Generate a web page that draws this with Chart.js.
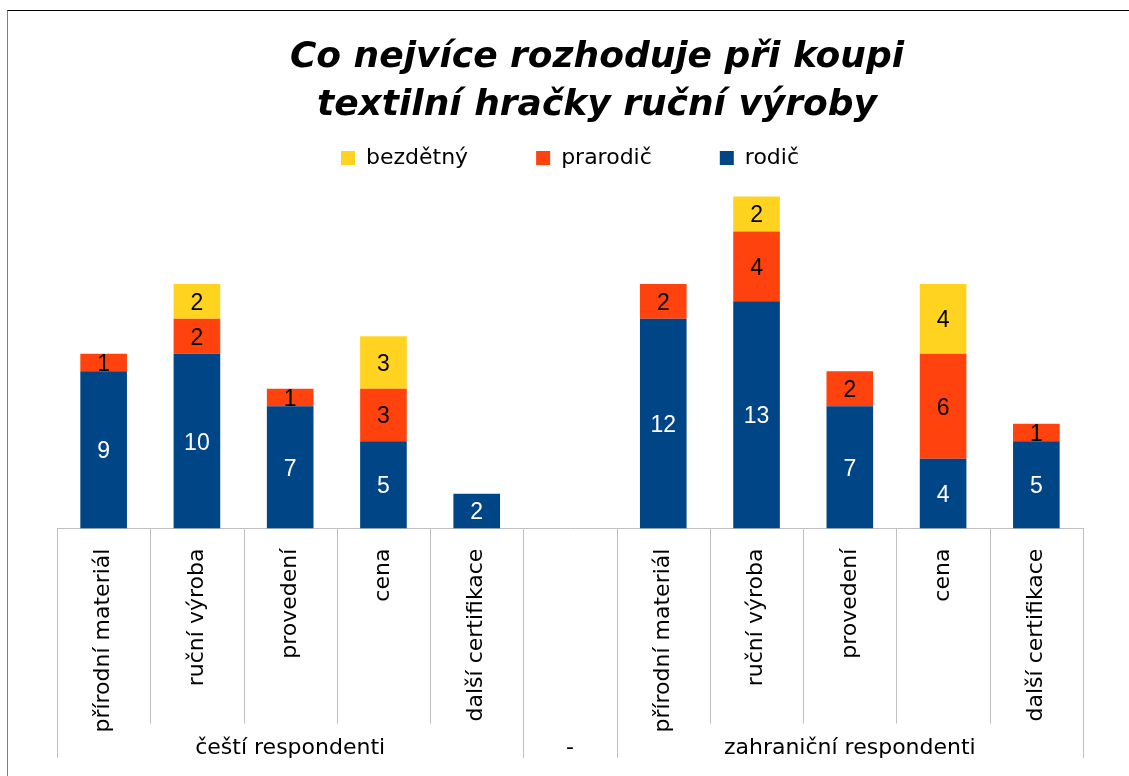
<!DOCTYPE html>
<html>
<head>
<meta charset="utf-8">
<script src="https://cdn.jsdelivr.net/npm/chart.js@4.4.0/dist/chart.umd.min.js"></script>
<style>
html,body{margin:0;padding:0;background:#fff;overflow:hidden;width:1129px;height:776px;}
#frame{position:absolute;left:7px;top:10px;width:1200px;height:900px;border-top:1px solid #000;border-left:1px solid #808080;}
#wrap{position:absolute;left:0;top:0;width:1137px;height:776px;}
canvas{display:block;}
</style>
</head>
<body>
<div id="frame"></div>
<div id="wrap"><canvas id="c" width="1137" height="776"></canvas></div>
<script>
// ---- data ----
const titleLines = ['Co nejvíce rozhoduje při koupi', 'textilní hračky ruční výroby'];
const categories = ['přírodní materiál', 'ruční výroba', 'provedení', 'cena', 'další certifikace', '',
                    'přírodní materiál', 'ruční výroba', 'provedení', 'cena', 'další certifikace'];
const groupLabels = ['', '', 'čeští respondenti', '', '', '-', '', '', 'zahraniční respondenti', '', ''];
const groupSizes = [5, 1, 5];
const seriesNames = ['rodič', 'prarodič', 'bezdětný'];
const rodic    = [9, 10, 7, 5, 2, null, 12, 13, 7, 4, 5];
const prarodic = [1, 2, 1, 3, 0, null, 2, 4, 2, 6, 1];
const bezdetny = [0, 2, 0, 3, 0, null, 0, 2, 0, 4, 0];
const yMax = 20;

const colors = ['#004586', '#ff420e', '#ffd320'];
const labelColors = ['#ffffff', '#000000', '#000000'];

// ---- plugins ----
const valueLabels = {
  id: 'valueLabels',
  afterDatasetsDraw(chart) {
    const ctx = chart.ctx;
    ctx.save();
    ctx.font = '23px "Liberation Sans", Arial, sans-serif';
    ctx.textAlign = 'center';
    ctx.textBaseline = 'middle';
    chart.data.datasets.forEach((ds, i) => {
      const meta = chart.getDatasetMeta(i);
      if (meta.hidden) return;
      meta.data.forEach((bar, j) => {
        const v = ds.data[j];
        if (!v) return;
        const p = bar.getProps(['x', 'y', 'base'], true);
        ctx.fillStyle = ds.labelColor;
        ctx.fillText(String(v), p.x, (p.y + p.base) / 2 + 2);
      });
    });
    ctx.restore();
  }
};

const separators = {
  id: 'separators',
  afterDraw(chart) {
    const xs = chart.scales.x, xg = chart.scales.xGroup;
    const ctx = chart.ctx;
    const n = categories.length;
    const step = xs.getPixelForValue(1) - xs.getPixelForValue(0);
    const start = xs.getPixelForValue(0) - step / 2;
    const bounds = [0];
    groupSizes.reduce((acc, s) => { bounds.push(acc + s); return acc + s; }, 0);
    ctx.save();
    ctx.strokeStyle = '#c0c0c0';
    ctx.lineWidth = 1;
    for (let k = 0; k <= n; k++) {
      const x = Math.round(start + k * step) + 0.5;
      const yEnd = bounds.includes(k) ? xg.bottom - 4 : xs.bottom - 10;
      ctx.beginPath();
      ctx.moveTo(x, xs.top);
      ctx.lineTo(x, yEnd);
      ctx.stroke();
    }
    ctx.restore();
  }
};

const tickFont = { family: '"DejaVu Sans"', size: 22 };

new Chart(document.getElementById('c'), {
  type: 'bar',
  data: {
    labels: categories,
    datasets: [
      { label: seriesNames[0], data: rodic,    backgroundColor: colors[0], borderWidth: 0, labelColor: labelColors[0] },
      { label: seriesNames[1], data: prarodic, backgroundColor: colors[1], borderWidth: 0, labelColor: labelColors[1] },
      { label: seriesNames[2], data: bezdetny, backgroundColor: colors[2], borderWidth: 0, labelColor: labelColors[2] }
    ]
  },
  options: {
    responsive: false,
    animation: false,
    devicePixelRatio: 1,
    categoryPercentage: 1.0,
    barPercentage: 0.5,
    layout: { padding: { left: 57, right: 0, top: 0, bottom: 14 } },
    plugins: {
      title: {
        display: true,
        text: titleLines,
        color: '#000',
        font: { family: '"DejaVu Sans"', size: 36, weight: 'bold', style: 'italic', lineHeight: 48 / 36 },
        padding: { top: 34, bottom: -51 }
      },
      legend: {
        display: true,
        position: 'top',
        fullSize: false,
        reverse: true,
        labels: {
          boxWidth: 14, boxHeight: 14, padding: 68, color: '#000',
          font: { family: '"DejaVu Sans"', size: 22 }
        }
      },
      tooltip: { enabled: false }
    },
    scales: {
      x: {
        type: 'category',
        stacked: true,
        offset: true,
        weight: 0,
        position: 'bottom',
        grid: { display: false, drawTicks: false, offset: true },
        border: { display: true, color: '#c0c0c0', width: 1 },
        ticks: { autoSkip: false, minRotation: 90, maxRotation: 90, padding: 20, color: '#000', font: tickFont },
        afterFit(s) { s.height = 205; }
      },
      xGroup: {
        type: 'category',
        labels: groupLabels,
        offset: true,
        weight: 1,
        position: 'bottom',
        grid: { display: false, drawTicks: false },
        border: { display: false },
        ticks: { autoSkip: false, minRotation: 0, maxRotation: 0, padding: 1, color: '#000', font: tickFont }
      },
      y: {
        type: 'linear',
        stacked: true,
        display: false,
        min: 0,
        max: yMax
      },
      yPad: {
        type: 'linear',
        position: 'right',
        display: true,
        grid: { display: false, drawTicks: false },
        border: { display: false },
        ticks: { display: false },
        afterFit(s) { s.width = 54; }
      }
    }
  },
  plugins: [valueLabels, separators]
});
</script>
</body>
</html>
